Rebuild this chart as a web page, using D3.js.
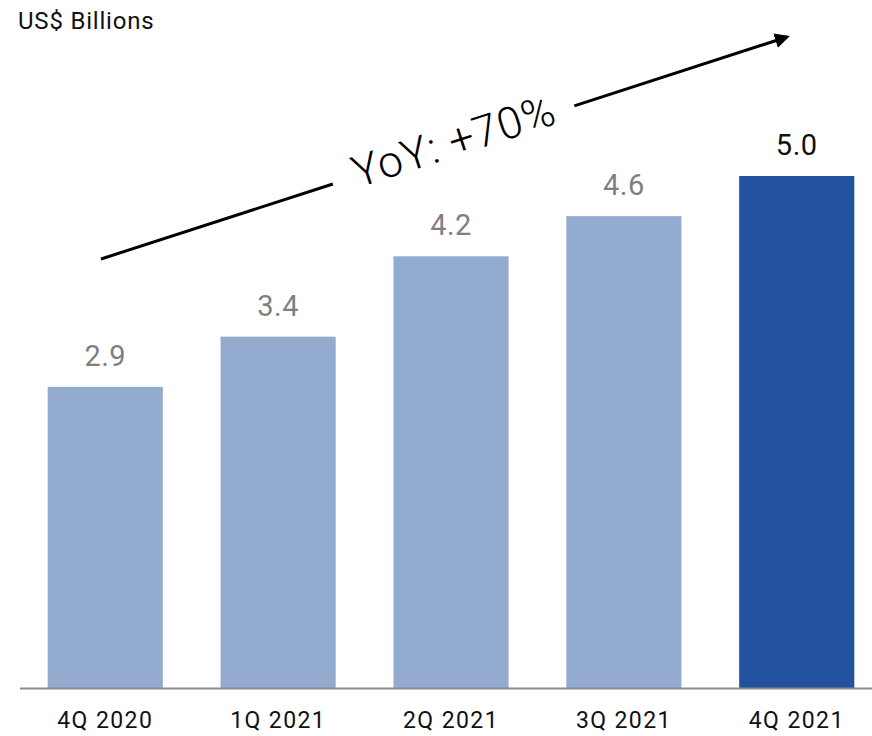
<!DOCTYPE html>
<html>
<head>
<meta charset="utf-8">
<script src="https://cdn.jsdelivr.net/npm/d3@7/dist/d3.min.js"></script>
<style>
  html, body { margin: 0; padding: 0; background: #fff; }
  svg { display: block; font-family: Roboto, "Noto Sans", sans-serif; }
</style>
</head>
<body>
<svg id="chart" width="872" height="736"></svg>
<script>
// Quarterly revenue, US$ billions
const quarters = ["4Q 2020", "1Q 2021", "2Q 2021", "3Q 2021", "4Q 2021"];
const revenue = [2.9, 3.4, 4.2, 4.6, 5.0];
const highlight = ["4Q 2021"];
const unitLabel = "US$ Billions";
const growthLabel = "YoY: +70%";

const svg = d3.select("#chart");
const baseY = 688;

const x = d3.scaleBand()
  .domain(quarters)
  .range([23.5, 878.5])
  .paddingInner(0.334)
  .paddingOuter(0.14);

const y = d3.scaleLinear()
  .domain([0, 5.0])
  .range([678, 176]);

// bars, running down to the baseline rule
svg.append("g").selectAll("rect")
  .data(quarters)
  .join("rect")
  .attr("x", d => x(d))
  .attr("width", x.bandwidth())
  .attr("y", (d, i) => y(revenue[i]))
  .attr("height", (d, i) => baseY - y(revenue[i]))
  .attr("fill", d => highlight.includes(d) ? "#22529F" : "#92ABCF");

// value labels
svg.append("g").selectAll("text")
  .data(quarters)
  .join("text")
  .attr("x", d => x(d) + x.bandwidth() / 2)
  .attr("y", (d, i) => y(revenue[i]) - 21)
  .attr("text-anchor", "middle")
  .attr("font-size", 29)
  .attr("letter-spacing", 0.5)
  .attr("fill", d => highlight.includes(d) ? "#111" : "#7f7f7f")
  .text((d, i) => revenue[i].toFixed(1));

// baseline axis
const axis = svg.append("g")
  .attr("transform", `translate(0,${baseY})`)
  .call(d3.axisBottom(x).tickSize(0).tickPadding(24));
axis.select(".domain")
  .attr("d", `M20,0.5H872`)
  .attr("stroke", "#8c8c8c")
  .attr("stroke-width", 2);
axis.selectAll("text")
  .attr("font-size", 23)
  .attr("letter-spacing", 1.4)
  .attr("font-family", "Roboto, 'Noto Sans', sans-serif")
  .attr("fill", "#111");

// unit label
svg.append("text")
  .attr("x", 18)
  .attr("y", 29)
  .attr("font-size", 24)
  .attr("letter-spacing", 0.8)
  .attr("fill", "#111")
  .text(unitLabel);

// growth arrow with label along it
const defs = svg.append("defs");
defs.append("marker")
  .attr("id", "head")
  .attr("viewBox", "0 0 10 10")
  .attr("refX", 8).attr("refY", 5)
  .attr("markerWidth", 5).attr("markerHeight", 5)
  .attr("orient", "auto")
  .append("path")
  .attr("d", "M0,0L10,5L0,10z")
  .attr("fill", "#000");

const p0 = [101, 259], p1 = [787, 37];
const angle = Math.atan2(p1[1] - p0[1], p1[0] - p0[0]);
const lerp = t => [p0[0] + (p1[0] - p0[0]) * t, p0[1] + (p1[1] - p0[1]) * t];
const a = lerp(0.338), b = lerp(0.69);

svg.append("line")
  .attr("x1", p0[0]).attr("y1", p0[1])
  .attr("x2", a[0]).attr("y2", a[1])
  .attr("stroke", "#000").attr("stroke-width", 3);
svg.append("line")
  .attr("x1", b[0]).attr("y1", b[1])
  .attr("x2", p1[0]).attr("y2", p1[1])
  .attr("stroke", "#000").attr("stroke-width", 3)
  .attr("marker-end", "url(#head)");

const mid = lerp(0.514);
svg.append("text")
  .attr("transform", `translate(${mid[0]},${mid[1] - 4}) rotate(${angle * 180 / Math.PI})`)
  .attr("text-anchor", "middle")
  .attr("dy", "0.35em")
  .attr("font-size", 44)
  .attr("font-weight", 300)
  .attr("letter-spacing", 1)
  .attr("fill", "#000")
  .text(growthLabel);
</script>
</body>
</html>
